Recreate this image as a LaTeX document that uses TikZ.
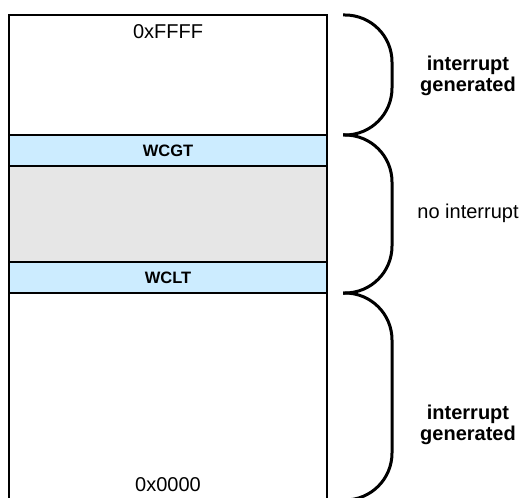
\documentclass[tikz,border=0pt]{standalone}
\usepackage{fontspec}
\setmainfont{Liberation Sans}
\usepackage{xcolor}
\usepackage{tikz}
\usetikzlibrary{positioning}
\definecolor{bandblue}{HTML}{CCECFF}
\definecolor{midgray}{HTML}{E6E6E6}

\begin{document}
\begin{tikzpicture}[x=1pt, y=-1pt,
    region/.style={draw, line width=2pt, minimum width=318pt, outer sep=0pt, inner sep=0pt, fill=white},
    band/.style={region, fill=bandblue, minimum height=31pt, font=\fontsize{16.5}{18}\selectfont\bfseries},
    addr/.style={font=\fontsize{20}{22}\selectfont},
    zone/.style={font=\fontsize{20}{21}\selectfont, align=center},
    brace/.style={line width=3pt, rounded corners=47pt}]
    \useasboundingbox (0,0) rectangle (521,497);

    % mapa de memoria
    \node[region, minimum height=120pt, anchor=north west] (upper) at (9,15) {};
    \node[band, below=0pt of upper] (wcgt) {WCGT};
    \node[region, fill=midgray, minimum height=96pt, below=0pt of wcgt] (window) {};
    \node[band, below=0pt of window] (wclt) {WCLT};
    \node[region, minimum height=207pt, below=0pt of wclt] (lower) {};

    \node[addr] (top) at (168,32) {0xFFFF};
    \node[addr] (bottom) at (168,485) {0x0000};

    % llaves
    \draw[brace] (343,15) -- (392,15) -- (392,135) -- (343,135);
    \draw[brace] (343,135) -- (392,135) -- (392,293) -- (343,293);
    \draw[brace] (343,293) -- (392,293) -- (392,500) -- (343,500);

    \node[zone, font=\fontsize{20}{21}\selectfont\bfseries] (intup) at (468,76) {interrupt\\generated};
    \node[zone] (noint) at (468,213) {no interrupt};
    \node[zone, font=\fontsize{20}{21}\selectfont\bfseries] (intlow) at (468,425) {interrupt\\generated};
\end{tikzpicture}
\end{document}
